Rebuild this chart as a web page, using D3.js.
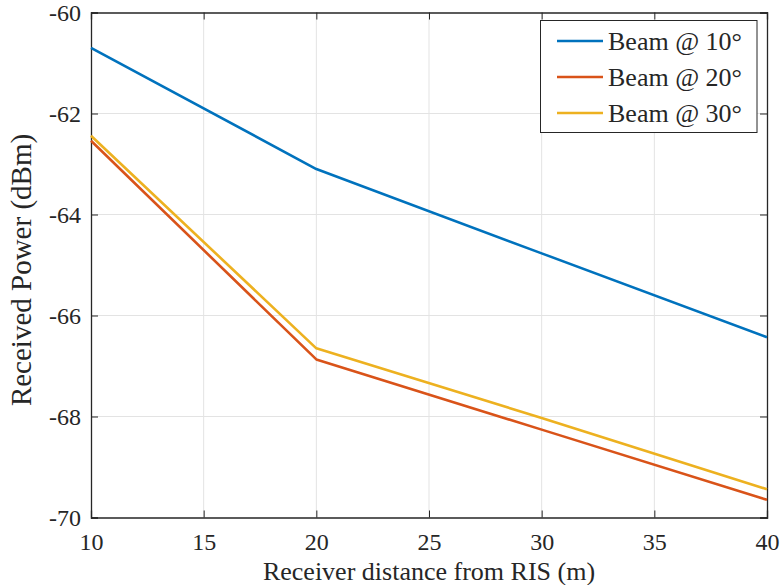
<!DOCTYPE html>
<html><head><meta charset="utf-8">
<script src="https://cdn.jsdelivr.net/npm/d3@7"></script>
<style>body{margin:0;background:#fff;} text{font-family:"Liberation Serif","Times New Roman",serif;fill:#262626;}</style>
</head><body>
<svg id="c" width="783" height="585"></svg>
<script>
const distances = [10, 20, 30, 40];
const beam10 = [-60.70, -63.10, -64.77, -66.43];
const beam20 = [-62.54, -66.87, -68.26, -69.65];
const beam30 = [-62.44, -66.65, -68.03, -69.44];
const seriesNames = ["Beam @ 10°", "Beam @ 20°", "Beam @ 30°"];
const seriesColors = ["#0072BD", "#D95319", "#EDB120"];
const xTicks = [10, 15, 20, 25, 30, 35, 40];
const yTicks = [-70, -68, -66, -64, -62, -60];

const svg = d3.select("#c");
const L = 91, R = 767, T = 12.5, B = 517.5;
const x = d3.scaleLinear().domain([10, 40]).range([L, R]);
const y = d3.scaleLinear().domain([-70, -60]).range([B, T]);

// grid
const g = svg.append("g");
g.selectAll(".gx").data(xTicks.slice(1, -1)).enter().append("line")
  .attr("x1", d => x(d)).attr("x2", d => x(d)).attr("y1", T).attr("y2", B)
  .attr("stroke", "#e3e3e3").attr("stroke-width", 1);
g.selectAll(".gy").data(yTicks.slice(1, -1)).enter().append("line")
  .attr("y1", d => y(d)).attr("y2", d => y(d)).attr("x1", L).attr("x2", R)
  .attr("stroke", "#e3e3e3").attr("stroke-width", 1);

// axes
const xa = svg.append("g").attr("transform", `translate(0,${B})`)
  .call(d3.axisBottom(x).tickValues(xTicks).tickSize(-7).tickPadding(15).tickFormat(d3.format("d")));
const xt = svg.append("g").attr("transform", `translate(0,${T})`)
  .call(d3.axisTop(x).tickValues(xTicks).tickSize(-7).tickFormat(""));
const ya = svg.append("g").attr("transform", `translate(${L},0)`)
  .call(d3.axisLeft(y).tickValues(yTicks).tickSize(-7).tickPadding(10).tickFormat(d => String(d)));
const yr = svg.append("g").attr("transform", `translate(${R},0)`)
  .call(d3.axisRight(y).tickValues(yTicks).tickSize(-7).tickFormat(""));
[xa, xt, ya, yr].forEach(a => {
  a.attr("font-family", null).attr("font-size", null);
  a.select(".domain").attr("stroke", "#262626").attr("stroke-width", 1.3);
  a.selectAll(".tick line").attr("stroke", "#262626").attr("stroke-width", 1);
  a.selectAll("text").style("font-size", "24px").style("font-family", "'Liberation Serif', serif").style("fill", "#262626");
});

// lines
const allSeries = [beam10, beam20, beam30];
const line = d3.line().x((d, i) => x(distances[i])).y(d => y(d));
allSeries.forEach((s, k) => {
  svg.append("path").datum(s).attr("d", line).attr("fill", "none")
    .attr("stroke", seriesColors[k]).attr("stroke-width", 2.6).attr("stroke-linejoin", "round");
});

// axis titles
svg.append("text").attr("x", (L + R) / 2).attr("y", 580).attr("text-anchor", "middle")
  .style("font-size", "26px").text("Receiver distance from RIS (m)");
svg.append("text").attr("transform", `translate(31,270) rotate(-90)`).attr("text-anchor", "middle")
  .style("font-size", "29px").text("Received Power (dBm)");

// legend
const lg = svg.append("g");
lg.append("rect").attr("x", 540.5).attr("y", 20.5).attr("width", 216.5).attr("height", 112)
  .attr("fill", "#fff").attr("stroke", "#262626").attr("stroke-width", 1);
seriesNames.forEach((n, k) => {
  const yy = 41 + k * 36;
  lg.append("line").attr("x1", 557).attr("x2", 603).attr("y1", yy).attr("y2", yy)
    .attr("stroke", seriesColors[k]).attr("stroke-width", 2.6);
  lg.append("text").attr("x", 608).attr("y", yy + 9).style("font-size", "26px").text(n);
});
</script>
</body></html>
